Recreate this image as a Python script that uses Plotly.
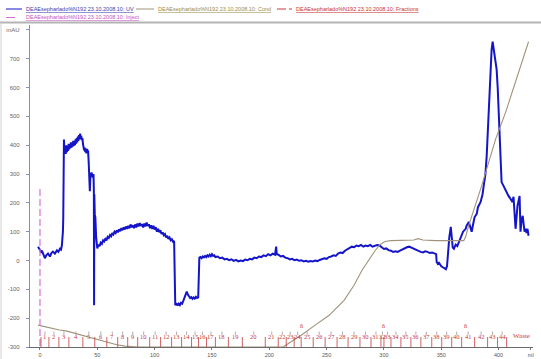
import plotly.graph_objects as go

# ---- UV absorbance trace (ml, mAU) ----
uv_ml = [-1.7, -1, 0, 1, 1.7, 3, 4.3, 5.5, 7, 8.7, 10, 11.3, 13, 14.8, 16, 17.4, 18.3, 19.1, 19.6, 20.0, 20.3, 20.6, 20.9,
         21.5, 22, 22.5, 23, 23.5, 24, 24.5, 25, 25.5, 26, 26.5, 27, 27.5, 28, 28.5, 29, 29.5, 30, 30.5, 31, 31.5, 32,
         32.5, 33, 33.5, 34, 34.5, 35, 35.5, 36, 36.5, 37, 37.5, 38, 38.5, 39, 39.5, 40, 40.5, 41, 42, 42.5, 43, 43.5,
         44, 45, 46, 46.7, 47.0, 47.2, 47.4, 47.8, 48.3, 49, 50, 51, 52, 53, 54, 55, 56, 57, 58, 59, 60, 61, 62, 63,
         64, 65, 66, 67, 68, 69, 70, 71, 72, 73, 74, 75, 76, 77, 78, 79, 80, 81, 82, 83, 84, 85, 86, 87, 88, 89, 90,
         91, 92, 93, 94, 95, 96, 97, 98, 99, 100, 101, 102, 103, 104, 105, 106, 107, 108, 109, 110, 111, 112, 113, 114,
         115, 116, 117, 117.4, 118, 119, 120, 121, 122, 123, 124, 125, 126, 127, 128, 129, 130, 131, 132, 133, 134,
         135, 136, 137, 138, 138.4, 139, 140, 141, 142, 143, 144, 145, 146, 147, 148, 149, 150, 151, 152, 153, 155,
         157, 159, 161, 163, 165, 167, 169, 171, 173, 175, 177, 179, 181, 183, 185, 187, 189, 191, 193, 195, 197, 199,
         201, 203, 205, 206, 206.5, 208, 210, 212, 214, 216, 218, 220, 222, 224, 226, 228, 230, 232, 234, 236, 238,
         240, 242, 244, 246, 248, 250, 252, 254, 256, 258, 260, 262, 264, 266, 268, 270, 272, 274, 276, 278, 280, 282,
         284, 286, 288, 290, 292, 294, 296, 298, 300, 302, 304, 306, 308, 310, 312, 314, 316, 318, 320, 322, 324, 326,
         328, 330, 332, 334, 336, 338, 340, 342, 344, 345.5, 346, 347, 348, 349, 350, 352, 354, 355, 356, 357, 358.3,
         359.1, 360, 361, 362.6, 364, 365, 367, 368, 369, 371.3, 372, 374, 375, 376.5, 378, 379, 380.9, 382, 384.3,
         386, 387, 388.5, 389.6, 391, 392.2, 393.1, 393.9, 394.8, 395.6, 396.5, 397.4, 398.3, 399.2, 400, 400.9,
         401.7, 402.6, 404.3, 405.5, 407, 408.5, 410.4, 412, 413, 414.8, 416.5, 417.4, 418.3, 419.1, 420, 421,
         422.6, 423.5, 424.4, 425.2, 426.1]
uv_mau = [48, 42, 38, 30, 34, 20, 8, 18, 24, 14, 26, 31, 24, 35, 30, 41, 38, 52, 75, 100, 145, 300, 420,
          372, 395, 370, 400, 376, 394, 380, 405, 386, 400, 390, 410, 392, 405, 395, 415, 398, 412, 400, 420, 405, 425,
          410, 430, 415, 435, 420, 440, 425, 432, 418, 425, 405, 398, 382, 392, 376, 388, 372, 386, 378, 340, 250, 240,
          295, 305, 288, 300, 240, -155, 230, 160, 150, 80, 42, 55, 50, 62, 58, 70, 66, 75, 70, 82, 78, 88, 84, 95,
          90, 100, 95, 105, 98, 108, 102, 112, 105, 115, 108, 118, 110, 120, 112, 125, 115, 122, 112, 125, 115, 128,
          118, 130, 120, 126, 115, 128, 118, 132, 120, 126, 112, 122, 110, 120, 108, 115, 100, 110, 98, 105, 92, 98,
          88, 92, 80, 86, 75, 80, 70, 74, 65, 68, -140, -155, -148, -156, -150, -155, -147, -150, -140, -128, -112,
          -108, -118, -125, -130, -127, -133, -128, -132, -126, -130, -128, 8, 10, 12, 8, 14, 11, 16, 12, 18, 14, 20,
          15, 22, 16, 18, 12, 14, 8, 10, 4, 6, 1, 4, -1, 2, -3, 0, -2, 3, 1, 6, 4, 10, 8, 14, 12, 18, 15, 22, 18, 24,
          20, 48, 22, 20, 14, 16, 10, 8, 4, 6, 1, 3, -1, 1, -3, -1, -4, -2, -3, 0, -2, 2, 5, 8, 6, 12, 14, 18, 16, 24,
          28, 26, 34, 38, 44, 48, 46, 52, 50, 54, 48, 52, 50, 54, 48, 50, 54, 52, 46, 40, 42, 36, 34, 30, 32, 30, 34,
          38, 44, 46, 48, 44, 40, 36, 32, 30, 28, 32, 30, 26, 28, 24, 22, -5, -12, -8, -15, -20, -25, -30, -20, 40,
          80, 117, 65, 45, 41, 55, 50, 60, 76, 90, 100, 110, 120, 134, 118, 100, 130, 150, 162, 185, 203, 230, 259,
          300, 362, 480, 628, 690, 731, 759, 735, 707, 690, 662, 600, 514, 440, 362, 272, 259, 248, 238, 225, 214,
          203, 221, 110, 190, 205, 224, 100, 140, 155, 100, 110, 95, 110, 86]

# ---- conductivity trace, drawn on the mAU scale ----
cond_ml = [-1.7, 5, 11, 17, 23.5, 30, 35, 40, 43.5, 48, 52, 57, 61, 67, 74, 85, 212, 220, 227.8, 240, 252.2,
           265.2, 273.9, 280.9, 287, 292.2, 296.5, 300.9, 306.1, 320, 326, 330, 334, 345, 369.6, 371.3, 373.9,
           385.2, 397.4, 406.1, 417.4, 426.1]
cond_val = [-224, -230, -238, -241, -245, -252, -259, -265, -269, -273, -276, -281, -286, -292, -297, -300, -300,
            -280, -259, -224, -190, -138, -86, -34, 3, 34, 55, 66, 69, 69, 71, 76, 71, 69, 69, 83, 121, 259, 421,
            514, 652, 759]

# ---- fractions ----
frac_bounds_ml = [0.9, 7.8, 16.5, 25.2, 37.4, 47.8, 58.3, 67.8, 76.5, 85.2, 95.7, 105.2, 114.8, 123.5, 132.2,
                  138.3, 145.2, 153.0, 164.3, 176.5, 196.5, 207.8, 214.8, 221.7, 227.8, 238.3, 248.7, 259.1, 268.7,
                  279.1, 288.7, 297.4, 300.0, 306.1, 314.8, 323.5, 332.2, 341.7, 350.4, 359.1, 367.8, 379.1, 390.4,
                  399.1, 407.0]
frac_labels = [str(n) for n in range(1, len(frac_bounds_ml))]
event_ml = [227.8, 300.0, 371.3]

# ---- injection ----
inject_ml = 0
inject_top = 248

x_tick_vals = [0, 50, 100, 150, 200, 250, 300, 350, 400]
y_tick_vals = [-300, -200, -100, 0, 100, 200, 300, 400, 500, 600, 700, 800]
y_tick_text = ["-300", "-200", "-100", "0", "100", "200", "300", "400", "500", "600", "700", "mAU"]

run_name = "DEAEsepharlado%N192 23.10.2008.10"

UV_C = "#1414c8"
COND_C = "#a0927a"
FRAC_C = "#c83838"
INJ_C = "#d470d4"

W, H = 541, 359
ML, MR, MT, MB = 30, 8, 25, 12
PW, PH = W - ML - MR, H - MT - MB
BOTTOM = H - MB


def px_x(p):
    return (p - ML) / PW


def px_y(p):
    return (BOTTOM - p) / PH


fig = go.Figure()
fig.add_trace(go.Scatter(x=uv_ml, y=uv_mau, mode="lines",
                         line=dict(color=UV_C, width=2.0), hoverinfo="skip"))
fig.add_trace(go.Scatter(x=cond_ml, y=cond_val, mode="lines",
                         line=dict(color=COND_C, width=1.1), hoverinfo="skip"))
fig.add_trace(go.Scatter(x=[inject_ml, inject_ml], y=[inject_top, y_tick_vals[0]], mode="lines",
                         line=dict(color=INJ_C, width=1.2, dash="7px,3px"), hoverinfo="skip"))

shapes = []
annotations = []

# fraction boundaries, numbers and marks along the bottom
for b in frac_bounds_ml:
    shapes.append(dict(type="line", xref="x", yref="paper", x0=b, x1=b,
                       y0=0, y1=px_y(BOTTOM - 10), line=dict(color=FRAC_C, width=0.8)))
for i, lab in enumerate(frac_labels):
    c = (frac_bounds_ml[i] + frac_bounds_ml[i + 1]) / 2
    annotations.append(dict(x=c, y=px_y(BOTTOM - 5), xref="x", yref="paper", text=lab, showarrow=False,
                            font=dict(family="Liberation Serif", size=6.5, color=FRAC_C)))
    shapes.append(dict(type="line", xref="x", yref="paper", x0=c, x1=c,
                       y0=px_y(BOTTOM - 12), y1=px_y(BOTTOM - 15.5), line=dict(color="#9a9a9a", width=0.8)))
annotations.append(dict(x=frac_bounds_ml[-1], y=px_y(BOTTOM - 5), xref="x", yref="paper", text="Waste",
                        showarrow=False, xanchor="left", xshift=4,
                        font=dict(family="Liberation Serif", size=7, color=FRAC_C)))
for e in event_ml:
    annotations.append(dict(x=e, y=px_y(BOTTOM - 16), xref="x", yref="paper", text="ñ", showarrow=False,
                            font=dict(family="Liberation Serif", size=6, color=FRAC_C)))

# header legend
legend_items = [
    (6, 9, UV_C, "solid", "UV", 24),
    (136, 9, COND_C, "solid", "Cond", 156),
    (277, 9, FRAC_C, "dashdot", "Fractions", 294),
    (6, 17.5, INJ_C, "dash", "Inject", 24),
]
text_colors = {"UV": "#3b3bb0", "Cond": "#9a8a48", "Fractions": "#c83030", "Inject": "#c450c4"}
for x0, yy, col, dash, name, tx in legend_items:
    shapes.append(dict(type="line", xref="paper", yref="paper", x0=px_x(x0), x1=px_x(tx - 2),
                       y0=px_y(yy), y1=px_y(yy), line=dict(color=col, width=1, dash=dash)))
    annotations.append(dict(x=px_x(tx), y=px_y(yy), xref="paper", yref="paper", xanchor="left",
                            yanchor="middle", showarrow=False,
                            text='<span style="text-decoration:underline">%s: %s</span>' % (run_name, name),
                            font=dict(family="Liberation Sans", size=5.5, color=text_colors[name])))

# header separator and left frame edge
shapes.append(dict(type="line", xref="paper", yref="paper", x0=px_x(0), x1=px_x(W),
                   y0=px_y(22.5), y1=px_y(22.5), line=dict(color="#b4b4b4", width=2)))
shapes.append(dict(type="line", xref="paper", yref="paper", x0=px_x(1), x1=px_x(1),
                   y0=px_y(H), y1=px_y(23), line=dict(color="#d0d0d0", width=1)))

fig.update_layout(
    width=W, height=H,
    margin=dict(l=ML, r=MR, t=MT, b=MB),
    paper_bgcolor="white", plot_bgcolor="white",
    showlegend=False,
    shapes=shapes, annotations=annotations,
    xaxis=dict(range=[-8.7, 430], tickvals=x_tick_vals + [428],
               ticktext=[str(v) for v in x_tick_vals] + ["ml"], automargin=False,
               ticks="outside", ticklen=2, tickcolor="#777", showline=True, linecolor="#6a6a6a",
               linewidth=1, showgrid=False, zeroline=False, ticklabelstandoff=0,
               tickfont=dict(family="Liberation Sans", size=5.5, color="#555")),
    yaxis=dict(range=[-300, 817], tickvals=y_tick_vals, ticktext=y_tick_text, automargin=False,
               ticks="outside", ticklen=3, tickcolor="#8a8ad0", showline=True, linecolor="#8a8ad0",
               linewidth=1.2, showgrid=False, zeroline=False, ticklabelstandoff=5,
               tickfont=dict(family="Liberation Sans", size=6, color="#666")),
)

fig.write_html("out.html")
